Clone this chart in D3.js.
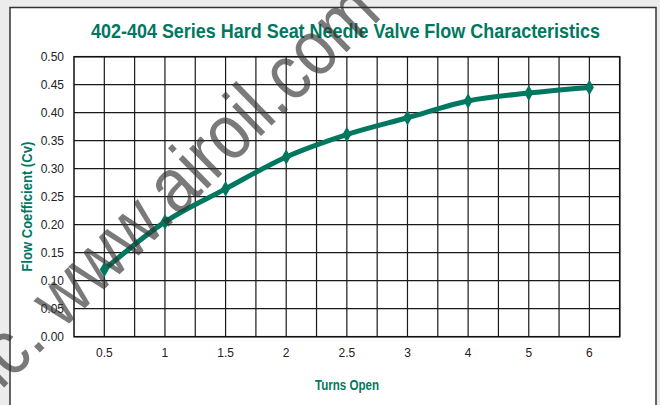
<!DOCTYPE html>
<html>
<head>
<meta charset="utf-8">
<script src="https://cdn.jsdelivr.net/npm/d3@7"></script>
<style>
  html, body { margin: 0; padding: 0; background: #ececec; }
  svg { display: block; }
</style>
</head>
<body>
<svg id="chart"></svg>
<script>
// chart data
const turns = ['0.5', '1', '1.5', '2', '2.5', '3', '4', '5', '6'];
const cv = [0.120, 0.205, 0.264, 0.321, 0.361, 0.391, 0.421, 0.435, 0.445];
const yTicks = [0, 0.05, 0.1, 0.15, 0.2, 0.25, 0.3, 0.35, 0.4, 0.45, 0.5];

const width = 660, height = 405;
const margin = { top: 56.7, right: 40.3, bottom: 68.3, left: 74 };
const teal = '#00785f';
const narrow = '"Liberation Sans Narrow", "Liberation Sans", Arial, sans-serif';

const svg = d3.select('#chart')
    .attr('width', width)
    .attr('height', height);

// white panel with border
svg.append('rect')
    .attr('x', 10).attr('y', 7.5)
    .attr('width', 646).attr('height', 410)
    .attr('fill', '#fff')
    .attr('stroke', '#333')
    .attr('stroke-width', 1.5);

const x = d3.scaleBand()
    .domain(turns)
    .range([margin.left, width - margin.right]);

const y = d3.scaleLinear()
    .domain([0, 0.5])
    .range([height - margin.bottom, margin.top]);

const cx = d => x(d) + x.bandwidth() / 2;

// grid: vertical lines at every band center and edge
const xGrid = [];
turns.forEach(t => { xGrid.push(x(t) + x.bandwidth() / 2); xGrid.push(x(t) + x.bandwidth()); });

const grid = svg.append('g').attr('class', 'grid');
grid.selectAll('line.v')
    .data(xGrid)
    .enter().append('line')
    .attr('class', 'v')
    .attr('x1', d => d).attr('x2', d => d)
    .attr('y1', y(0)).attr('y2', y(0.5))
    .attr('stroke', '#1a1a1a')
    .attr('stroke-width', 1.2);

grid.selectAll('line.h')
    .data(yTicks)
    .enter().append('line')
    .attr('class', 'h')
    .attr('x1', margin.left).attr('x2', width - margin.right)
    .attr('y1', d => y(d)).attr('y2', d => y(d))
    .attr('stroke', '#1a1a1a')
    .attr('stroke-width', 1.2);

// plot frame
svg.append('rect')
    .attr('x', margin.left).attr('y', margin.top)
    .attr('width', width - margin.left - margin.right)
    .attr('height', height - margin.top - margin.bottom)
    .attr('fill', 'none')
    .attr('stroke', '#111')
    .attr('stroke-width', 1.5);

// y axis labels
const yAxis = d3.axisLeft(y)
    .tickValues(yTicks)
    .tickFormat(d3.format('.2f'))
    .tickSize(0)
    .tickPadding(10);

svg.append('g')
    .attr('transform', `translate(${margin.left},0)`)
    .call(yAxis)
    .call(g => g.select('.domain').remove())
    .selectAll('text')
    .attr('fill', '#222')
    .style('font-family', 'Arial, "Liberation Sans", sans-serif')
    .style('font-size', '12px');

// x axis labels
const xAxis = d3.axisBottom(x).tickSize(0).tickPadding(12);

svg.append('g')
    .attr('transform', `translate(0,${y(0)})`)
    .call(xAxis)
    .call(g => g.select('.domain').remove())
    .selectAll('text')
    .attr('fill', '#222')
    .style('font-family', 'Arial, "Liberation Sans", sans-serif')
    .style('font-size', '12px');

// series line
const line = d3.line()
    .x((d, i) => cx(turns[i]))
    .y(d => y(d))
    .curve(d3.curveMonotoneX);

svg.append('path')
    .datum(cv)
    .attr('d', line)
    .attr('fill', 'none')
    .attr('stroke', teal)
    .attr('stroke-width', 5)
    .attr('stroke-linejoin', 'round');

svg.append('g')
    .selectAll('path')
    .data(cv)
    .enter().append('path')
    .attr('d', d3.symbol(d3.symbolDiamond, 70))
    .attr('transform', (d, i) => `translate(${cx(turns[i])},${y(d)})`)
    .attr('fill', teal);

// title and axis titles
svg.append('text')
    .attr('x', 91).attr('y', 38)
    .attr('fill', teal)
    .attr('textLength', 509)
    .attr('lengthAdjust', 'spacingAndGlyphs')
    .style('font-family', narrow)
    .style('font-weight', 'bold')
    .style('font-size', '21px')
    .text('402-404 Series Hard Seat Needle Valve Flow Characteristics');

svg.append('text')
    .attr('transform', 'translate(31.5,206.7) rotate(-90)')
    .attr('text-anchor', 'middle')
    .attr('fill', teal)
    .attr('textLength', 130)
    .attr('lengthAdjust', 'spacingAndGlyphs')
    .style('font-family', narrow)
    .style('font-weight', 'bold')
    .style('font-size', '14px')
    .text('Flow Coefficient (Cv)');

svg.append('text')
    .attr('x', 347).attr('y', 390)
    .attr('text-anchor', 'middle')
    .attr('fill', teal)
    .attr('textLength', 64)
    .attr('lengthAdjust', 'spacingAndGlyphs')
    .style('font-family', narrow)
    .style('font-weight', 'bold')
    .style('font-size', '15px')
    .text('Turns Open');

// watermark
svg.append('text')
    .attr('transform', 'translate(-26,417) rotate(-44.4)')
    .attr('fill', '#333')
    .attr('fill-opacity', 0.65)
    .attr('textLength', 573)
    .attr('lengthAdjust', 'spacingAndGlyphs')
    .style('font-family', narrow)
    .style('font-size', '78px')
    .text('inc. www.airoil.com');
</script>
</body>
</html>
